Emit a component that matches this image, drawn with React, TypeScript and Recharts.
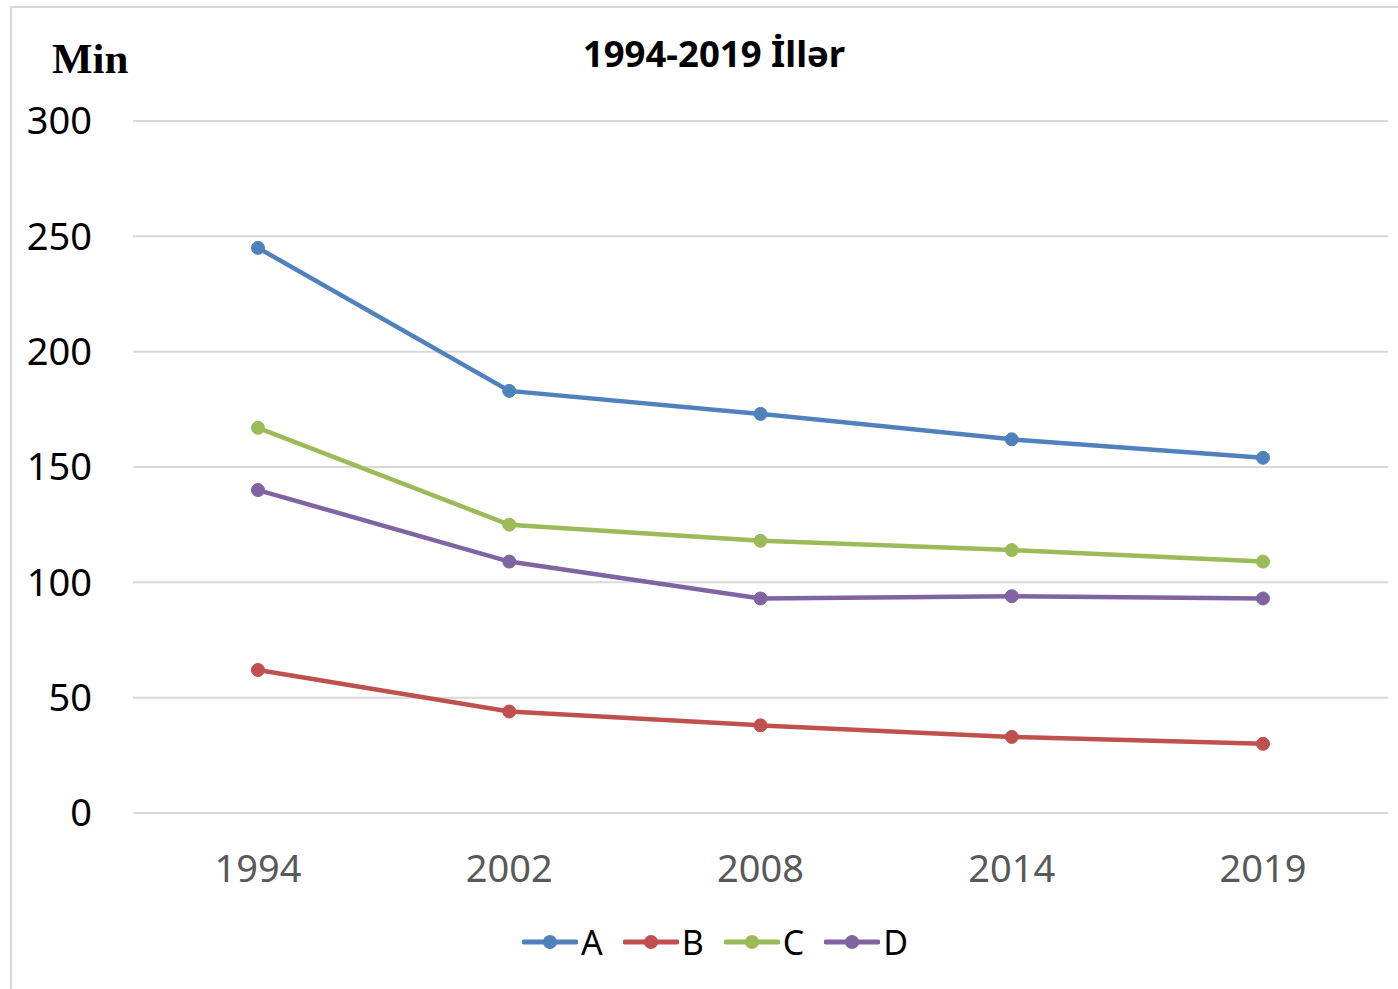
import React from 'react';
import { LineChart, Line, XAxis, YAxis, CartesianGrid, Legend } from 'recharts';

const years = ['1994', '2002', '2008', '2014', '2019'];
const seriesA = [245, 183, 173, 162, 154];
const seriesB = [62, 44, 38, 33, 30];
const seriesC = [167, 125, 118, 114, 109];
const seriesD = [140, 109, 93, 94, 93];
const yTicks = [0, 50, 100, 150, 200, 250, 300];

const series = [
    { key: 'A', color: '#4F81BD' },
    { key: 'B', color: '#C0504D' },
    { key: 'C', color: '#9BBB59' },
    { key: 'D', color: '#8064A2' },
];

const data = years.map((year, i) => ({
    year,
    A: seriesA[i],
    B: seriesB[i],
    C: seriesC[i],
    D: seriesD[i],
}));

const FONT = '"Noto Sans", "Open Sans", sans-serif';

const renderLegend = () => (
    <div style={{ display: 'flex', alignItems: 'center', fontFamily: FONT, fontSize: 34, color: '#000' }}>
        {series.map((s) => (
            <div key={s.key} style={{ display: 'flex', alignItems: 'center', marginRight: 20 }}>
                <svg width={56} height={16}>
                    <line x1={2} y1={8} x2={54} y2={8} stroke={s.color} strokeWidth={5} strokeLinecap="round" />
                    <circle cx={28} cy={8} r={7} fill={s.color} />
                </svg>
                <span style={{ marginLeft: 3, lineHeight: '44px' }}>{s.key}</span>
            </div>
        ))}
    </div>
);

const App: React.FC = () => {
    return (
        <div style={{ position: 'absolute', left: 0, top: 0, width: 1398, height: 989, background: '#fff', overflow: 'hidden' }}>
            <div style={{ position: 'absolute', left: 10, top: 6, width: 1420, height: 1010, border: '2px solid #d9d9d9' }} />
            <div style={{ position: 'absolute', left: 0, top: 0 }}>
                <LineChart width={1398} height={989} data={data} margin={{ top: 121, right: 10, bottom: 116, left: 0 }}>
                    <CartesianGrid vertical={false} stroke="#d9d9d9" strokeWidth={2} />
                    <XAxis
                        dataKey="year"
                        axisLine={false}
                        tickLine={false}
                        tickSize={0}
                        tickMargin={42}
                        height={60}
                        padding={{ left: 125, right: 125 }}
                        tick={{ fill: '#595959', fontSize: 38, fontFamily: FONT }}
                    />
                    <YAxis
                        domain={[0, 300]}
                        ticks={yTicks}
                        width={133}
                        axisLine={false}
                        tickLine={false}
                        tickSize={0}
                        tickMargin={41}
                        tick={{ fill: '#000', fontSize: 38, fontFamily: FONT }}
                    />
                    <Legend
                        verticalAlign="middle"
                        align="center"
                        layout="horizontal"
                        content={renderLegend}
                        wrapperStyle={{ left: 522, top: 920, width: 'auto' }}
                    />
                    {series.map((s) => (
                        <Line
                            key={s.key}
                            type="linear"
                            dataKey={s.key}
                            stroke={s.color}
                            strokeWidth={4.5}
                            dot={{ r: 6.5, fill: s.color, stroke: s.color, strokeWidth: 1 }}
                            isAnimationActive={false}
                        />
                    ))}
                </LineChart>
            </div>
            <svg style={{ position: 'absolute', left: 0, top: 0 }} width={1398} height={120}>
                <text x={52} y={73} fontFamily='"Liberation Serif", serif' fontWeight="bold" fontSize={43} fill="#000">
                    Min
                </text>
                <text x={714} y={67} textAnchor="middle" fontFamily={FONT} fontWeight="bold" fontSize={36.5} fill="#000">
                    1994-2019 İllər
                </text>
            </svg>
        </div>
    );
};

export default App;
